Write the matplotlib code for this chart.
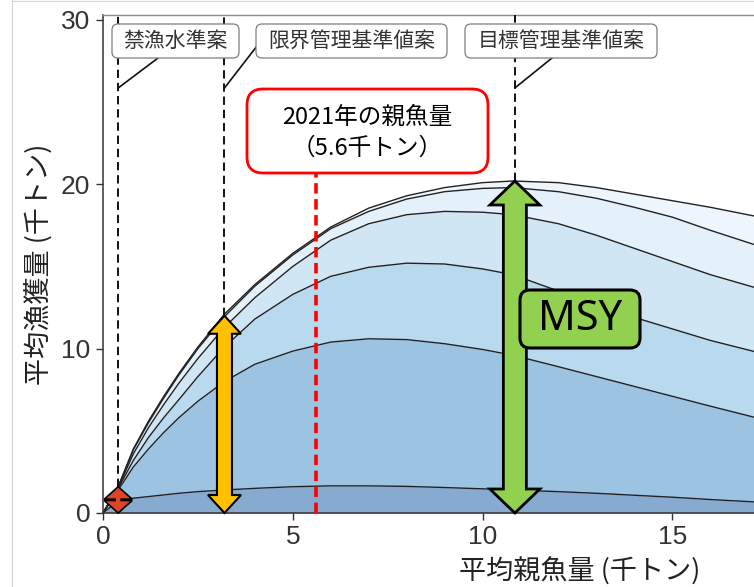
import numpy as np
import matplotlib
matplotlib.use('Agg')
import matplotlib.pyplot as plt
from matplotlib.patches import Polygon, FancyBboxPatch
from matplotlib.lines import Line2D
from matplotlib.transforms import IdentityTransform

plt.rcParams['font.family'] = ['Noto Sans CJK JP', 'DejaVu Sans']
plt.rcParams['lines.scale_dashes'] = False

# 親魚量 (千トン)
sb = [0, 0.4, 0.8, 1.2, 1.6, 2, 2.5, 3.2, 4, 5, 6, 7, 8, 9, 10, 10.8, 12, 13, 14, 15, 16, 17.2]

# 漁獲量曲線 (千トン), 上から順に
catch_1 = [0, 1.6, 3.9, 5.6, 7.1, 8.5, 10.1, 12.1, 13.9, 15.8, 17.4, 18.55, 19.3, 19.8, 20.1, 20.2,
           20.1, 19.8, 19.4, 19.0, 18.6, 18.05]
catch_2 = [0, 1.6, 3.85, 5.5, 7.0, 8.4, 10.0, 11.95, 13.8, 15.7, 17.3, 18.35, 19.1, 19.55, 19.75, 19.8,
           19.55, 19.15, 18.6, 18.0, 17.2, 16.3]
catch_3 = [0, 1.55, 3.6, 5.2, 6.6, 7.9, 9.4, 11.3, 13.1, 15.0, 16.6, 17.6, 18.15, 18.35, 18.3, 18.15,
           17.6, 16.9, 16.1, 15.3, 14.5, 13.7]
catch_4 = [0, 1.5, 3.2, 4.6, 5.8, 6.9, 8.3, 10.1, 11.8, 13.3, 14.4, 14.95, 15.2, 15.15, 14.85, 14.5,
           13.5, 12.6, 11.9, 11.2, 10.5, 9.8]
catch_5 = [0, 1.4, 2.8, 3.9, 4.9, 5.8, 6.8, 8.0, 9.05, 9.85, 10.4, 10.6, 10.55, 10.3, 9.95, 9.6,
           8.9, 8.3, 7.7, 7.1, 6.5, 5.8]
catch_6 = [0, 0.75, 0.9, 1.0, 1.1, 1.2, 1.3, 1.4, 1.5, 1.6, 1.65, 1.65, 1.62, 1.55, 1.47, 1.4,
           1.3, 1.2, 1.08, 0.96, 0.82, 0.67]
curves = [catch_6, catch_5, catch_4, catch_3, catch_2, catch_1]
band_colors = ['#87aad0', '#9dc3e3', '#b9d9ef', '#d1e6f4', '#e4f0fa', '#eef6fd']

# 管理基準値案 (親魚量, 漁獲量)
ref_names = ['禁漁水準案', '限界管理基準値案', '目標管理基準値案']
ref_sb = [0.4, 3.2, 10.85]
ref_catch = [1.6, 12.0, 20.2]
sb_2021 = 5.6

xticks = [0, 5, 10, 15]
yticks = [0, 10, 20, 30]

W, H = 754, 587


def px(x, y):
    # pixel from top-left -> display coords
    return (x, H - y)


def main():
    fig = plt.figure(figsize=(W / 100, H / 100), dpi=100)
    ax = fig.add_axes([103 / W, 1 - 513 / H, (W - 103) / W, (513 - 15) / H])
    ax.set_xlim(0, 17.15)
    ax.set_ylim(0, 30.3)

    disp = ax.transData.transform
    inv = ax.transData.inverted().transform

    # bands between curves
    lower = np.zeros(len(sb))
    for c, col in zip(curves, band_colors):
        ax.fill_between(sb, lower, c, color=col, lw=0, zorder=1)
        lower = np.array(c)
    for c in curves:
        ax.plot(sb, c, color='#222222', lw=1.0, zorder=2)

    # reference point dashed lines
    ytop = ax.get_ylim()[1]
    for x, y in zip(ref_sb, ref_catch):
        ax.plot([x, x], [y, ytop], color='#111111', lw=1.4, dashes=(6, 3.5), zorder=3, clip_on=False)

    # 2021 spawning biomass
    y_box = inv(px(0, 173))[1]
    ax.plot([sb_2021, sb_2021], [0, y_box], color='#ff0000', lw=2.6, dashes=(7.5, 4), zorder=3)

    # double-headed arrows
    def double_arrow(x, y0, y1, shaft, head, head_len, color, lw):
        cx, yb = disp((x, y0))
        yt = disp((x, y1))[1]
        s, h = shaft / 2, head / 2
        verts = [(cx, yt), (cx + h, yt - head_len), (cx + s, yt - head_len), (cx + s, yb + head_len),
                 (cx + h, yb + head_len), (cx, yb), (cx - h, yb + head_len), (cx - s, yb + head_len),
                 (cx - s, yt - head_len), (cx - h, yt - head_len)]
        fig.add_artist(Polygon(verts, closed=True, transform=IdentityTransform(), facecolor=color,
                               edgecolor='black', lw=lw, joinstyle='miter', zorder=4))

    double_arrow(ref_sb[0], 0, ref_catch[0], 6, 28, 12.5, '#e04428', 1.2)
    double_arrow(ref_sb[1], 0, ref_catch[1], 15, 33, 18, '#ffc000', 1.5)
    double_arrow(ref_sb[2], 0, ref_catch[2], 23, 50, 24, '#92d050', 2.0)

    # label boxes (pixel coords)
    def box(x0, y0, x1, y1, r, fc, ec, lw):
        p = FancyBboxPatch(px(x0, y1), x1 - x0, y1 - y0, boxstyle=f'round,pad=0,rounding_size={r}',
                           transform=IdentityTransform(), facecolor=fc, edgecolor=ec, lw=lw, zorder=5)
        fig.add_artist(p)

    boxes = [(112, 24, 239, 58), (256, 24, 447, 58), (465, 24, 657, 58)]
    leaders = [(158, 58), (257, 46), (552, 58)]
    y_lead = H - 88
    for name, b, lead, x in zip(ref_names, boxes, leaders, ref_sb):
        box(*b, 6, 'white', '#7f7f7f', 0.9)
        fig.text((b[0] + b[2]) / 2 / W, 1 - (b[1] + b[3]) / 2 / H, name, ha='center', va='center',
                 fontsize=15, color='#333333', zorder=6)
        x_disp = disp((x, 0))[0]
        fig.add_artist(Line2D([lead[0], x_disp], [H - lead[1], y_lead], transform=IdentityTransform(),
                              color='#111111', lw=1.2, zorder=4))

    # 2021 box
    box(247, 89, 488, 173, 16, 'white', '#ff0000', 2.0)
    fig.text(367.5 / W, 1 - 133 / H, '2021年の親魚量\n（5.6千トン）', ha='center', va='center',
             fontsize=17, color='black', linespacing=1.45, zorder=6)

    # MSY box
    box(520, 290, 640, 348, 10, '#92d050', 'black', 2.2)
    fig.text(580 / W, 1 - 319 / H, 'MSY', ha='center', va='center', fontsize=30,
             fontfamily='Noto Sans', color='black', zorder=6)

    # axes styling
    ax.spines['right'].set_visible(False)
    ax.spines['top'].set_color('#8c8c8c')
    ax.spines['top'].set_linewidth(1.0)
    for s in ['left', 'bottom']:
        ax.spines[s].set_color('#333333')
        ax.spines[s].set_linewidth(1.1)
    ax.set_xticks(xticks, labels=[str(t) for t in xticks], fontfamily='Liberation Sans')
    ax.set_yticks(yticks, labels=[str(t) for t in yticks], fontfamily='Liberation Sans')
    ax.tick_params(length=5, width=1, color='#333333', labelsize=19, labelcolor='#333333', pad=4)

    ax.set_xlabel('平均親魚量 (千トン)', fontsize=19.5, color='#222222')
    ax.set_ylabel('平均漁獲量 (千トン)', fontsize=19.5, color='#222222')
    ax.xaxis.set_label_coords(0.733, -0.09)
    ax.yaxis.set_label_coords(-0.078, 0.5)

    # outer frame
    fig.add_artist(Line2D([12, 12], [0, H], transform=IdentityTransform(), color='#d4d4d4', lw=0.8))
    fig.add_artist(Line2D([12, W], [H - 0.5, H - 0.5], transform=IdentityTransform(), color='#d4d4d4', lw=0.8))

    fig.savefig('out.png', dpi=100)


if __name__ == "__main__":
    main()
